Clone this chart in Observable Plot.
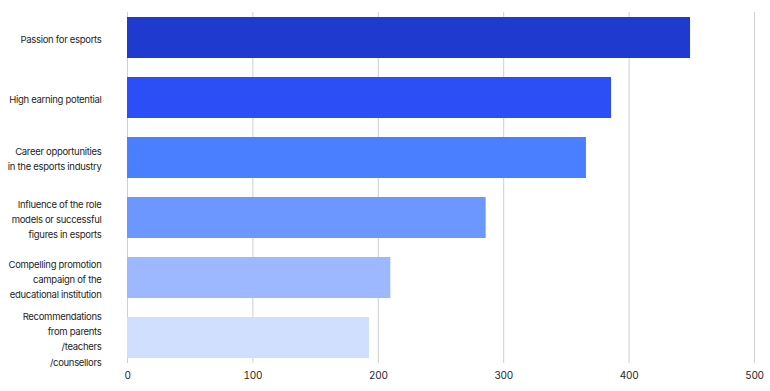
<!DOCTYPE html>
<html>
<head>
<meta charset="utf-8">
<script src="https://cdn.jsdelivr.net/npm/d3@7"></script>
<script src="https://cdn.jsdelivr.net/npm/@observablehq/plot@0.6"></script>
<style>
  html, body { margin: 0; padding: 0; background: #fff; }
  #chart { width: 770px; height: 391px; }
  #chart svg text { letter-spacing: -0.3px; }
</style>
</head>
<body>
<div id="chart"></div>
<script>
const categories = [
  "Passion for esports",
  "High earning potential",
  "Career opportunities\nin the esports industry",
  "Influence of the role\nmodels or successful\nfigures in esports",
  "Compelling promotion\ncampaign of the\neducational institution",
  "Recommendations\nfrom parents\n/teachers\n/counsellors"
];
const values = [449, 386, 366, 286, 210, 193];
const colors = ["#1f3bcf", "#2c4ef6", "#4a80ff", "#6b97ff", "#9db8ff", "#d1dfff"];
const xTicks = [0, 100, 200, 300, 400, 500];

const data = categories.map((c, i) => ({category: c, value: values[i], color: colors[i]}));

const chart = Plot.plot({
  width: 770,
  height: 391,
  marginTop: 12,
  marginBottom: 28,
  marginLeft: 127,
  marginRight: 16,
  style: {fontFamily: "Inter, sans-serif", fontSize: "9.5px", color: "#1e1e1e", background: "#fff"},
  x: {domain: [0, 500], ticks: xTicks},
  y: {domain: categories, paddingInner: 0.31, paddingOuter: 0.075},
  marks: [
    Plot.gridX(xTicks, {stroke: "#cfcfcf", strokeOpacity: 1, strokeWidth: 1}),
    Plot.barX(data, {x: "value", y: "category", fill: "color"}),
    Plot.axisX({ticks: xTicks, tickSize: 0, tickPadding: 8, label: null, fontSize: 10}),
    Plot.axisY({tickSize: 0, tickPadding: 26, label: null, lineHeight: 1.6, fontSize: 9.5})
  ]
});
document.getElementById("chart").appendChild(chart);
</script>
</body>
</html>
